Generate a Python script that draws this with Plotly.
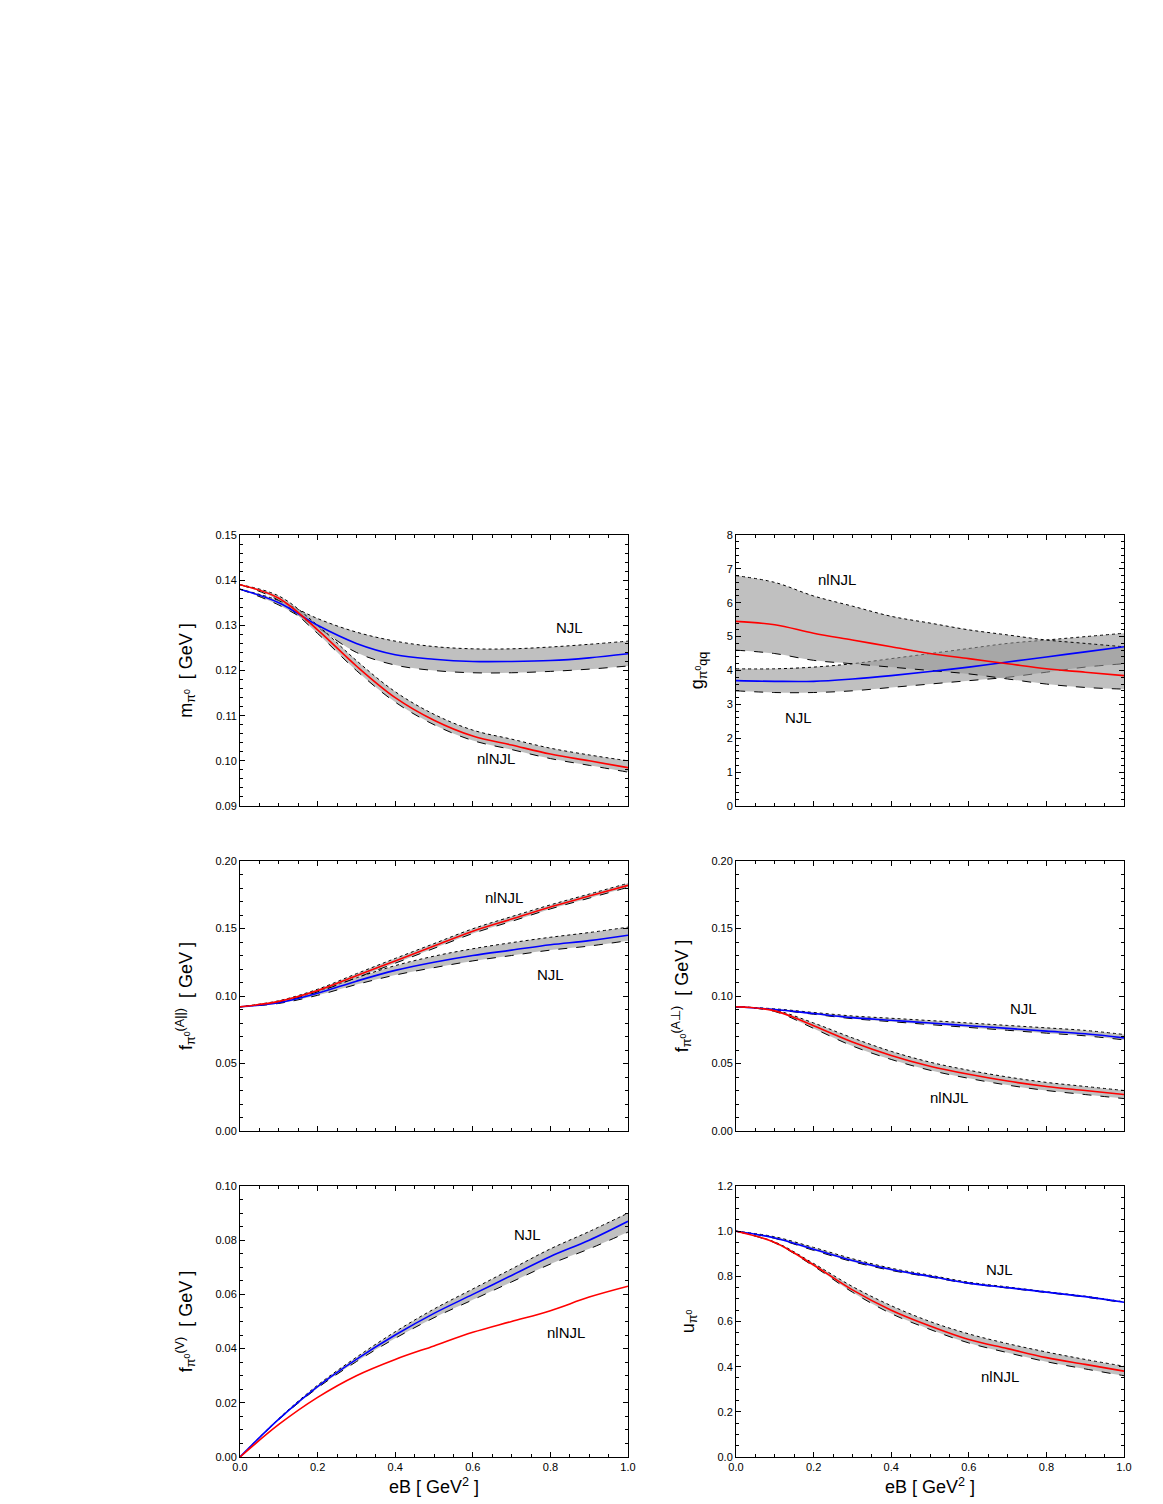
import plotly.graph_objects as go

eb = [0.0, 0.1, 0.2, 0.3, 0.4, 0.5, 0.6, 0.7, 0.8, 0.9, 1.0]

# pion mass
m_njl = [0.138, 0.135, 0.130, 0.126, 0.1235, 0.1225, 0.122, 0.122, 0.1222, 0.1228, 0.1237]
m_njl_hi = [0.138, 0.1355, 0.1315, 0.1285, 0.1265, 0.1253, 0.1248, 0.1248, 0.1252, 0.1258, 0.1265]
m_njl_lo = [0.138, 0.1345, 0.1295, 0.1240, 0.1212, 0.1200, 0.1195, 0.1195, 0.1198, 0.1203, 0.1210]
m_nl = [0.139, 0.136, 0.129, 0.121, 0.114, 0.109, 0.1055, 0.1035, 0.1015, 0.100, 0.0985]
m_nl_hi = [0.139, 0.1365, 0.130, 0.1222, 0.1153, 0.1103, 0.1068, 0.1048, 0.1028, 0.1013, 0.1000]
m_nl_lo = [0.139, 0.1355, 0.1282, 0.1200, 0.1130, 0.1080, 0.1045, 0.1025, 0.1005, 0.0990, 0.0975]

# coupling
g_nl = [5.45, 5.35, 5.1, 4.9, 4.7, 4.5, 4.35, 4.2, 4.05, 3.95, 3.85]
g_nl_hi = [6.8, 6.6, 6.2, 5.9, 5.6, 5.4, 5.2, 5.05, 4.9, 4.8, 4.7]
g_nl_lo = [4.6, 4.5, 4.3, 4.2, 4.1, 4.0, 3.9, 3.75, 3.6, 3.5, 3.45]
g_njl = [3.7, 3.68, 3.68, 3.75, 3.85, 3.97, 4.1, 4.25, 4.4, 4.55, 4.7]
g_njl_hi = [4.05, 4.05, 4.1, 4.2, 4.35, 4.5, 4.65, 4.8, 4.9, 5.0, 5.1]
g_njl_lo = [3.4, 3.35, 3.35, 3.4, 3.5, 3.6, 3.7, 3.8, 3.95, 4.1, 4.2]

# f_A parallel
fa_nl = [0.092, 0.096, 0.104, 0.115, 0.126, 0.137, 0.148, 0.157, 0.166, 0.174, 0.182]
fa_nl_hi = [0.092, 0.0965, 0.105, 0.1165, 0.1278, 0.1388, 0.1498, 0.1588, 0.1675, 0.1755, 0.1835]
fa_nl_lo = [0.092, 0.0955, 0.103, 0.1135, 0.1243, 0.1353, 0.1463, 0.1553, 0.1645, 0.1725, 0.1805]
fa_njl = [0.092, 0.095, 0.102, 0.111, 0.119, 0.125, 0.130, 0.134, 0.138, 0.141, 0.145]
fa_njl_hi = [0.092, 0.0955, 0.1035, 0.1135, 0.1225, 0.1295, 0.135, 0.1395, 0.1435, 0.147, 0.151]
fa_njl_lo = [0.092, 0.0945, 0.1005, 0.1085, 0.1155, 0.1210, 0.1260, 0.1300, 0.1340, 0.1370, 0.1410]

# f_A perpendicular
fp_njl = [0.092, 0.090, 0.087, 0.084, 0.082, 0.080, 0.078, 0.076, 0.074, 0.072, 0.069]
fp_njl_hi = [0.092, 0.0905, 0.0878, 0.0852, 0.0835, 0.0818, 0.0800, 0.0782, 0.0764, 0.0745, 0.0715]
fp_njl_lo = [0.092, 0.0898, 0.0865, 0.0832, 0.0810, 0.0788, 0.0767, 0.0746, 0.0725, 0.0705, 0.0675]
fp_nl = [0.092, 0.089, 0.078, 0.066, 0.056, 0.048, 0.042, 0.037, 0.033, 0.030, 0.027]
fp_nl_hi = [0.092, 0.0895, 0.080, 0.069, 0.059, 0.051, 0.045, 0.040, 0.036, 0.033, 0.030]
fp_nl_lo = [0.092, 0.0885, 0.076, 0.063, 0.053, 0.045, 0.039, 0.034, 0.030, 0.027, 0.024]

# f_V
fv_njl = [0.0, 0.014, 0.026, 0.036, 0.045, 0.053, 0.060, 0.067, 0.074, 0.080, 0.087]
fv_njl_hi = [0.0, 0.0142, 0.0265, 0.0368, 0.0462, 0.0546, 0.062, 0.0694, 0.0768, 0.0832, 0.090]
fv_njl_lo = [0.0, 0.0138, 0.0255, 0.0352, 0.0438, 0.0514, 0.058, 0.0646, 0.0712, 0.0768, 0.083]
fv_nl = [0.0, 0.012, 0.022, 0.030, 0.036, 0.041, 0.046, 0.050, 0.054, 0.059, 0.063]

# velocity
u_njl = [1.0, 0.97, 0.92, 0.87, 0.83, 0.80, 0.77, 0.75, 0.73, 0.71, 0.685]
u_njl_hi = [1.0, 0.975, 0.928, 0.878, 0.836, 0.805, 0.774, 0.753, 0.732, 0.712, 0.687]
u_njl_lo = [1.0, 0.968, 0.915, 0.865, 0.826, 0.797, 0.768, 0.748, 0.728, 0.708, 0.683]
u_nl = [1.0, 0.95, 0.85, 0.74, 0.65, 0.58, 0.52, 0.48, 0.44, 0.41, 0.38]
u_nl_hi = [1.0, 0.952, 0.857, 0.755, 0.67, 0.60, 0.545, 0.502, 0.465, 0.432, 0.402]
u_nl_lo = [1.0, 0.948, 0.845, 0.730, 0.635, 0.565, 0.505, 0.462, 0.422, 0.390, 0.360]

fig = go.Figure()

xd = {"L": [232 / 1163, 620 / 1163], "R": [728 / 1163, 1116 / 1163]}
yd = [[1 - 798 / 1504, 1 - 527 / 1504], [1 - 1123 / 1504, 1 - 853 / 1504], [1 - 1449 / 1504, 1 - 1178 / 1504]]

panels = [
    (1, "L", 0, [0.09, 0.15], 0.01, "m<sub>π<sup>0</sup></sub>  [ GeV ]",
     [(m_njl, m_njl_lo, m_njl_hi, "blue"), (m_nl, m_nl_lo, m_nl_hi, "red")],
     [(0.85, 0.1295, "NJL"), (0.66, 0.1005, "nlNJL")]),
    (2, "R", 0, [0, 8], 1, "g<sub>π<sup>0</sup>qq</sub>",
     [(g_njl, g_njl_lo, g_njl_hi, "blue"), (g_nl, g_nl_lo, g_nl_hi, "red")],
     [(0.16, 2.6, "NJL"), (0.26, 6.7, "nlNJL")]),
    (3, "L", 1, [0, 0.2], 0.05, "f<sub>π<sup>0</sup></sub><sup>(A||)</sup>  [ GeV ]",
     [(fa_njl, fa_njl_lo, fa_njl_hi, "blue"), (fa_nl, fa_nl_lo, fa_nl_hi, "red")],
     [(0.80, 0.116, "NJL"), (0.68, 0.173, "nlNJL")]),
    (4, "R", 1, [0, 0.2], 0.05, "f<sub>π<sup>0</sup></sub><sup>(A⊥)</sup>  [ GeV ]",
     [(fp_njl, fp_njl_lo, fp_njl_hi, "blue"), (fp_nl, fp_nl_lo, fp_nl_hi, "red")],
     [(0.74, 0.091, "NJL"), (0.55, 0.025, "nlNJL")]),
    (5, "L", 2, [0, 0.1], 0.02, "f<sub>π<sup>0</sup></sub><sup>(V)</sup>  [ GeV ]",
     [(fv_njl, fv_njl_lo, fv_njl_hi, "blue"), (fv_nl, None, None, "red")],
     [(0.74, 0.082, "NJL"), (0.84, 0.046, "nlNJL")]),
    (6, "R", 2, [0, 1.2], 0.2, "u<sub>π<sup>0</sup></sub>",
     [(u_njl, u_njl_lo, u_njl_hi, "blue"), (u_nl, u_nl_lo, u_nl_hi, "red")],
     [(0.68, 0.83, "NJL"), (0.68, 0.355, "nlNJL")]),
]

axis_common = dict(showline=True, linecolor="black", linewidth=1, mirror="ticks",
                   ticks="inside", ticklen=5, tickcolor="black", showgrid=False,
                   zeroline=False, tickfont=dict(size=11), automargin=False,
                   minor=dict(ticks="inside", ticklen=3, tickcolor="black"))

for k, col, row, yr, dt, ytitle, curves, labels in panels:
    xa = "x" if k == 1 else f"x{k}"
    ya = "y" if k == 1 else f"y{k}"
    for mid, lo, hi, color in curves:
        if lo is not None:
            fig.add_trace(go.Scatter(x=eb, y=lo, xaxis=xa, yaxis=ya, mode="lines",
                                     line=dict(color="black", width=1, dash="dash", shape="spline"),
                                     showlegend=False))
            fig.add_trace(go.Scatter(x=eb, y=hi, xaxis=xa, yaxis=ya, mode="lines", fill="tonexty",
                                     fillcolor="rgba(150,150,150,0.6)",
                                     line=dict(color="black", width=1, dash="dot", shape="spline"),
                                     showlegend=False))
    for mid, lo, hi, color in curves:
        fig.add_trace(go.Scatter(x=eb, y=mid, xaxis=xa, yaxis=ya, mode="lines",
                                 line=dict(color=color, width=1.6, shape="spline"),
                                 showlegend=False))
    for lx, ly, txt in labels:
        fig.add_annotation(x=lx, y=ly, xref=xa, yref=ya, text=txt, showarrow=False,
                           font=dict(size=15, color="black"))
    bottom = row == 2
    xkey = "xaxis" if k == 1 else f"xaxis{k}"
    ykey = "yaxis" if k == 1 else f"yaxis{k}"
    fig.update_layout({
        xkey: dict(axis_common, domain=xd[col], anchor=ya, range=[0, 1], dtick=0.2,
                   tickformat=".1f", showticklabels=bottom,
                   title=dict(text="eB [ GeV<sup>2</sup> ]" if bottom else "",
                              font=dict(size=18), standoff=8)),
        ykey: dict(axis_common, domain=yd[row], anchor=xa, range=yr, dtick=dt,
                   tickformat=".2f" if dt < 0.1 else (".1f" if dt < 1 else "d"),
                   title=dict(text=ytitle, font=dict(size=18), standoff=18)),
    })

fig.update_layout(width=1163, height=1504, plot_bgcolor="white", paper_bgcolor="white",
                  margin=dict(l=0, r=0, t=0, b=0),
                  font=dict(family="Liberation Sans, Arial", color="black"))

fig.write_html("out.html")
